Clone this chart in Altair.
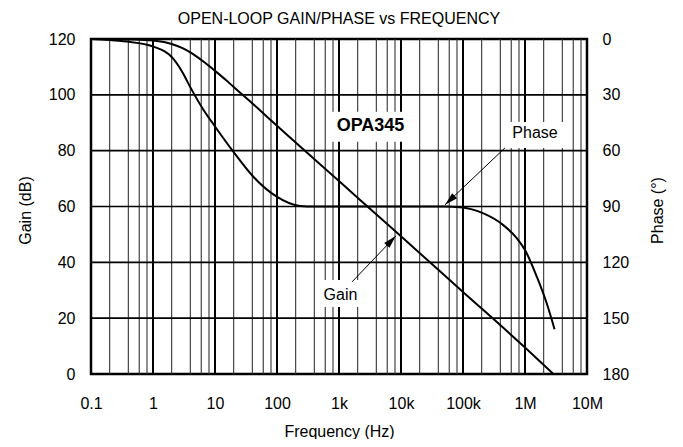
import altair as alt
import pandas as pd

# ---------------- data ----------------
gain_freq = [0.1, 0.5, 1, 1.5, 2, 3, 4, 5, 7, 10, 15, 20, 30, 50, 100,
             1e3, 1e4, 1e5, 1e6, 2.87e6]
gain_db = [120, 119.86, 119.5, 118.9, 118.2, 116.7, 115.2, 113.8, 111.4,
           108.6, 105.3, 102.8, 99.4, 95.0, 88.9, 69.1, 49.3, 29.4, 9.5, 0]

phase_freq = [0.1, 0.2, 0.38, 1, 2.1, 3, 3.95, 6.5, 10, 19.7, 41.5, 99,
              234, 400, 1e3, 1e4, 5e4, 8.9e4, 2.14e5, 4.47e5, 7.35e5,
              1e6, 1.55e6, 2.24e6, 3.0e6]
phase_deg = [0, 0.5, 1.4, 4, 10.4, 18, 25.6, 38, 47, 60.5, 74, 84.7,
             89.7, 90, 90, 90, 90, 90.4, 93.7, 100, 107, 113.4, 127.7,
             142, 156]

decades = [0.1, 1, 10, 100, 1e3, 1e4, 1e5, 1e6, 1e7]
x_tick_labels = ["0.1", "1", "10", "100", "1k", "10k", "100k", "1M", "10M"]
minor_mult = [2, 4, 6, 8]
gain_ticks = [0, 20, 40, 60, 80, 100, 120]
gain_grid = [20, 40, 60, 80, 100]
phase_ticks = [0, 30, 60, 90, 120, 150, 180]

# annotations (frequency, gain-scale position)
title_text = ["OPA345"]
title_freq = [3222]
title_gain = [88.9]
note_text = ["Phase", "Gain"]
note_freq = [1.45e6, 1057]
note_gain = [86.4, 28.3]

box_f1 = [771, 4.75e5, 458]
box_f2 = [12970, 4.4e6, 2350]
box_g1 = [83.2, 81.0, 24.0]
box_g2 = [93.9, 90.3, 33.7]

arrow_f1 = [4.75e5, 1623]
arrow_g1 = [81.0, 33.0]
arrow_f2 = [5.13e4, 8300]
arrow_g2 = [60.6, 49.5]
arrow_angle = [226.5, 43.7]

# ---------------- tables ----------------
gain_df = pd.DataFrame({"f": gain_freq, "g": gain_db})
phase_df = pd.DataFrame({"f": phase_freq, "p": phase_deg})
major_df = pd.DataFrame({"f": decades})
minor_df = pd.DataFrame({"f": [d * m for d in decades[:-1] for m in minor_mult]})
hgrid_df = pd.DataFrame({"g": gain_grid})
name_df = pd.DataFrame({"t": title_text, "f": title_freq, "g": title_gain})
note_df = pd.DataFrame({"t": note_text, "f": note_freq, "g": note_gain})
box_df = pd.DataFrame({"f": box_f1, "f2": box_f2, "g": box_g1, "g2": box_g2})
arrow_df = pd.DataFrame({"f": arrow_f1, "g": arrow_g1, "f2": arrow_f2,
                         "g2": arrow_g2, "a": arrow_angle})

FONT = "Liberation Sans"
label_expr = "[" + ",".join("'%s'" % s for s in x_tick_labels) + "][round(log(datum.value)/log(10))+1]"

x_scale = alt.Scale(type="log", domain=[0.1, 1e7], nice=False)
x_axis = alt.Axis(values=decades, labelExpr=label_expr, grid=False, ticks=False,
                  domain=False, labelFontSize=16, labelFont=FONT, labelColor="black",
                  labelPadding=34, labelBaseline="alphabetic", labelFlush=False,
                  labelOverlap=False, title="Frequency (Hz)", titleFontSize=16,
                  titleFont=FONT, titleFontWeight="normal", titleColor="black",
                  titleX=248, titleY=62, titleBaseline="alphabetic")

gain_scale = alt.Scale(domain=[0, 120], nice=False, zero=False)
gain_axis = alt.Axis(values=gain_ticks, grid=False, ticks=False, domain=False,
                     labelFontSize=16, labelFont=FONT, labelColor="black",
                     labelPadding=16, labelFlush=False, labelOverlap=False,
                     title="Gain (dB)", titleFontSize=16, titleFont=FONT,
                     titleFontWeight="normal", titleColor="black",
                     titleAngle=270, titleX=-66, titleY=171, titleBaseline="middle")

phase_scale = alt.Scale(domain=[0, 180], reverse=True, nice=False, zero=False)
phase_axis = alt.Axis(orient="right", values=phase_ticks, grid=False, ticks=False,
                      domain=False, labelFontSize=16, labelFont=FONT,
                      labelColor="black", labelPadding=15, labelAlign="left",
                      labelFlush=False, labelOverlap=False, title="Phase (°)",
                      titleFontSize=16, titleFont=FONT, titleFontWeight="normal",
                      titleColor="black", titleAngle=270, titleX=70, titleY=171,
                      titleBaseline="middle")


def X(field="f"):
    return alt.X(field, type="quantitative", scale=x_scale, axis=x_axis)


def YG(field="g"):
    return alt.Y(field, type="quantitative", scale=gain_scale, axis=gain_axis)


minor_rules = alt.Chart(minor_df).mark_rule(color="#333333", strokeWidth=1.1).encode(x=X())
major_rules = alt.Chart(major_df).mark_rule(color="black", strokeWidth=2).encode(x=X())
h_rules = alt.Chart(hgrid_df).mark_rule(color="black", strokeWidth=1.6).encode(y=YG())

boxes = alt.Chart(box_df).mark_rect(color="white").encode(
    x=X(), x2="f2", y=YG(), y2="g2")

gain_line = alt.Chart(gain_df).mark_line(color="black", strokeWidth=2,
                                         interpolate="monotone").encode(
    x=X(), y=YG(), order="f")

arrow_lines = alt.Chart(arrow_df).mark_rule(color="black", strokeWidth=1).encode(
    x=X(), y=YG(), x2="f2", y2="g2")

arrow_heads = alt.Chart(arrow_df).mark_point(
    shape="M0,0L0.27,1L-0.27,1Z", filled=True, color="black", opacity=1,
    size=700).encode(
    x=X("f2"), y=YG("g2"), angle=alt.Angle("a", type="quantitative", scale=None))

name_text = alt.Chart(name_df).mark_text(font=FONT, color="black", baseline="middle",
                                         align="center", fontSize=18,
                                         fontWeight="bold").encode(
    x=X(), y=YG(), text="t")

note_labels = alt.Chart(note_df).mark_text(font=FONT, color="black", baseline="middle",
                                           align="center", fontSize=16).encode(
    x=X(), y=YG(), text="t")

gain_layer = alt.layer(minor_rules, major_rules, h_rules, boxes, gain_line,
                       arrow_lines, arrow_heads, name_text, note_labels)

phase_line = alt.Chart(phase_df).mark_line(color="black", strokeWidth=2,
                                           interpolate="monotone").encode(
    x=X(), y=alt.Y("p", type="quantitative", scale=phase_scale, axis=phase_axis),
    order="f")

chart = alt.layer(gain_layer, phase_line).resolve_scale(y="independent").properties(
    width=496, height=335,
    autosize=alt.AutoSizeParams(type="none"),
    padding={"left": 83, "top": 31, "right": 84, "bottom": 65},
    background="white",
    title=alt.TitleParams("OPEN-LOOP GAIN/PHASE vs FREQUENCY", fontSize=16,
                          font=FONT, fontWeight="normal", color="black",
                          anchor="middle", baseline="alphabetic", offset=14,
                          dy=23),
).configure_view(stroke="black", strokeWidth=2.5)

chart.save("out.html", embed_options={"renderer": "svg", "actions": False})
